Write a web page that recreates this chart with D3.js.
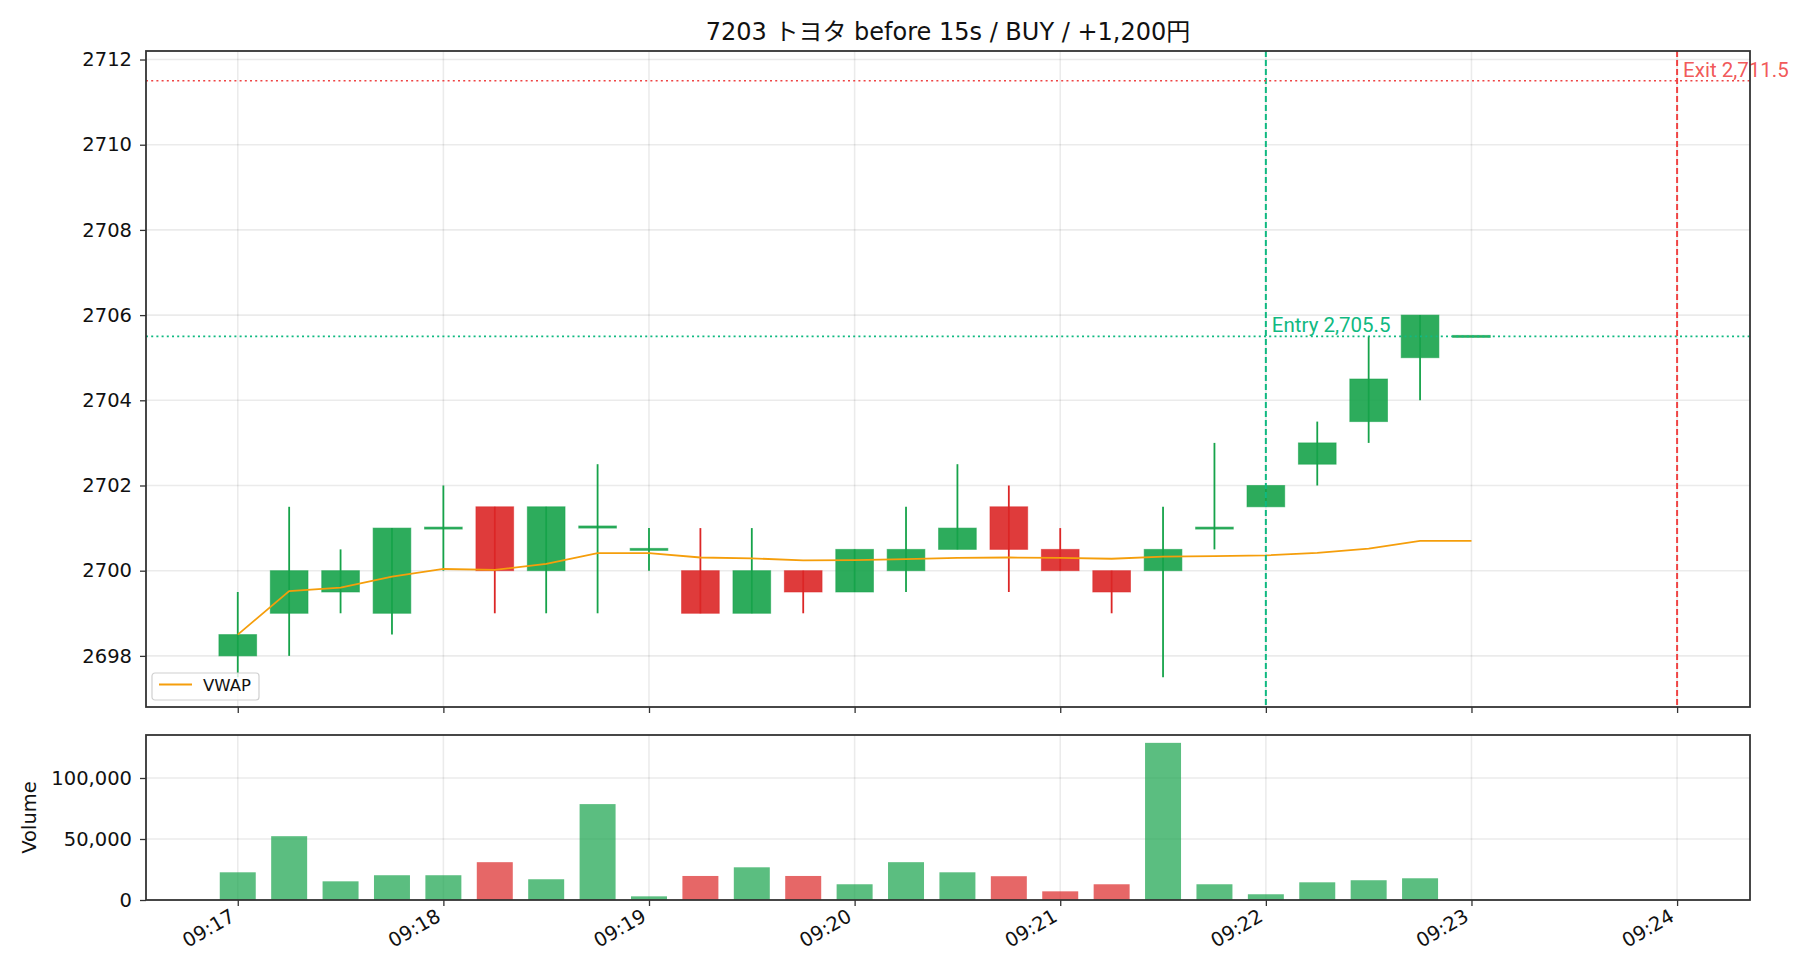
<!DOCTYPE html>
<html>
<head>
<meta charset="utf-8">
<script src="https://cdn.jsdelivr.net/npm/d3@7"></script>
<style>
    html, body { margin: 0; padding: 0; background: #fff; }
    svg text { font-family: "DejaVu Sans", "Noto Sans CJK JP", sans-serif; fill: #111; }
    .tick text { font-size: 19.5px; }
    .grid line { stroke: #000; stroke-opacity: 0.08; stroke-width: 1.6; }
</style>
</head>
<body>
<script>
"use strict";

// 15s bars
const times = [
    "09:17:00", "09:17:15", "09:17:30", "09:17:45",
    "09:18:00", "09:18:15", "09:18:30", "09:18:45",
    "09:19:00", "09:19:15", "09:19:30", "09:19:45",
    "09:20:00", "09:20:15", "09:20:30", "09:20:45",
    "09:21:00", "09:21:15", "09:21:30", "09:21:45",
    "09:22:00", "09:22:15", "09:22:30", "09:22:45",
    "09:23:00"
];
const opens  = [2698, 2699, 2699.5, 2699, 2701, 2701.5, 2700, 2701, 2700.5, 2700, 2699, 2700,
                2699.5, 2700, 2700.5, 2701.5, 2700.5, 2700, 2700, 2701, 2701.5, 2702.5, 2703.5, 2705, 2705.5];
const highs  = [2699.5, 2701.5, 2700.5, 2701, 2702, 2701.5, 2701.5, 2702.5, 2701, 2701, 2701, 2700,
                2700.5, 2701.5, 2702.5, 2702, 2701, 2700, 2701.5, 2703, 2702, 2703.5, 2705.5, 2706, 2705.5];
const lows   = [2697.5, 2698, 2699, 2698.5, 2700, 2699, 2699, 2699, 2700, 2699, 2699, 2699,
                2699.5, 2699.5, 2700.5, 2699.5, 2700, 2699, 2697.5, 2700.5, 2701.5, 2702, 2703, 2704, 2705.5];
const closes = [2698.5, 2700, 2700, 2701, 2701, 2700, 2701.5, 2701.05, 2700.5, 2699, 2700, 2699.5,
                2700.5, 2700.5, 2701, 2700.5, 2700, 2699.5, 2700.5, 2701, 2702, 2703, 2704.5, 2706, 2705.5];
const volumes = [22700, 52300, 15300, 20300, 20300, 31000, 17000, 78600, 3000, 19700, 26800, 19700,
                 12900, 31000, 22700, 19500, 7100, 12900, 128800, 12900, 4700, 14500, 16200, 17800, 200];
const vwap = [2698.5, 2699.52, 2699.6, 2699.86, 2700.04, 2700.02, 2700.16, 2700.41, 2700.41, 2700.31,
              2700.29, 2700.24, 2700.25, 2700.27, 2700.3, 2700.31, 2700.3, 2700.28, 2700.33, 2700.34,
              2700.36, 2700.42, 2700.52, 2700.7, 2700.7];

const entry = { time: "09:22:00", price: 2705.5 };
const exit  = { time: "09:24:00", price: 2711.5 };
const title = "7203 トヨタ before 15s / BUY / +1,200円";

const UP = "#16a34a", DOWN = "#dc2626";
const ENTRY_C = "#10b981", EXIT_C = "#ef4444", VWAP_C = "#f59e0b";

const W = 1820, H = 980;
const main = { left: 146, right: 1750, top: 51, bottom: 707 };
const vol  = { left: 146, right: 1750, top: 735, bottom: 900 };

const parse = d3.timeParse("%H:%M:%S");
const bars = times.map((t, i) => ({
    t: parse(t), o: opens[i], h: highs[i], l: lows[i], c: closes[i], v: volumes[i], vw: vwap[i]
}));
const entryT = parse(entry.time), exitT = parse(exit.time);

// matplotlib-ish 5% margins
const barW = 11 * 1000;
const x0 = +bars[0].t - barW / 2, x1 = +exitT;
const xPad = (x1 - x0) * 0.05;
const x = d3.scaleTime()
            .domain([new Date(x0 - xPad), new Date(x1 + xPad)])
            .range([main.left, main.right]);

const pLo = d3.min(lows), pHi = d3.max([...highs, exit.price]);
const pPad = (pHi - pLo) * 0.05;
const y = d3.scaleLinear()
            .domain([pLo - pPad, pHi + pPad])
            .range([main.bottom, main.top]);

const yv = d3.scaleLinear()
             .domain([0, d3.max(volumes) * 1.05])
             .range([vol.bottom, vol.top]);

const svg = d3.select("body").append("svg")
              .attr("width", W)
              .attr("height", H);

svg.append("text")
   .attr("x", (main.left + main.right) / 2)
   .attr("y", 40)
   .attr("text-anchor", "middle")
   .style("font-size", "24px")
   .text(title);

const defs = svg.append("defs");
defs.append("clipPath").attr("id", "clipMain")
    .append("rect")
    .attr("x", main.left).attr("y", main.top)
    .attr("width", main.right - main.left).attr("height", main.bottom - main.top);
defs.append("clipPath").attr("id", "clipVol")
    .append("rect")
    .attr("x", vol.left).attr("y", vol.top)
    .attr("width", vol.right - vol.left).attr("height", vol.bottom - vol.top);

const xTicks = x.ticks(d3.timeMinute.every(1));
const pTicks = y.ticks(8);
const vTicks = [0, 50000, 100000];

// grids
function grid(box, yScale, yT) {
    const g = svg.append("g").attr("class", "grid");
    g.selectAll(".gx").data(xTicks).enter().append("line")
     .attr("x1", d => x(d)).attr("x2", d => x(d))
     .attr("y1", box.top).attr("y2", box.bottom);
    g.selectAll(".gy").data(yT).enter().append("line")
     .attr("x1", box.left).attr("x2", box.right)
     .attr("y1", d => yScale(d)).attr("y2", d => yScale(d));
}
grid(main, y, pTicks);
grid(vol, yv, vTicks);

// ---- price panel
const pg = svg.append("g").attr("clip-path", "url(#clipMain)");

const bodyW = x(new Date(+bars[0].t + barW / 2)) - x(new Date(+bars[0].t - barW / 2));

pg.selectAll(".wick").data(bars).enter().append("line")
  .attr("class", "wick")
  .attr("x1", d => x(d.t)).attr("x2", d => x(d.t))
  .attr("y1", d => y(d.h)).attr("y2", d => y(d.l))
  .attr("stroke", d => d.c >= d.o ? UP : DOWN)
  .attr("stroke-width", 1.8);

pg.selectAll(".body").data(bars).enter().append("rect")
  .attr("class", "body")
  .attr("x", d => x(d.t) - bodyW / 2)
  .attr("width", bodyW)
  .attr("y", d => y(Math.max(d.o, d.c)) - (d.o === d.c ? 1 : 0))
  .attr("height", d => Math.max(Math.abs(y(d.o) - y(d.c)), 2))
  .attr("fill", d => d.c >= d.o ? UP : DOWN)
  .attr("fill-opacity", 0.9)
  .attr("stroke", d => d.c >= d.o ? UP : DOWN)
  .attr("stroke-opacity", 0.55)
  .attr("stroke-width", 1);

pg.append("path")
  .datum(bars)
  .attr("fill", "none")
  .attr("stroke", VWAP_C)
  .attr("stroke-width", 1.8)
  .attr("d", d3.line().x(d => x(d.t)).y(d => y(d.vw)));

// entry / exit markers
function marker(t, price, color) {
    pg.append("line")
      .attr("x1", main.left).attr("x2", main.right)
      .attr("y1", y(price)).attr("y2", y(price))
      .attr("stroke", color).attr("stroke-width", 1.6)
      .attr("stroke-dasharray", "2,3.2");
    pg.append("line")
      .attr("x1", x(t)).attr("x2", x(t))
      .attr("y1", main.top).attr("y2", main.bottom)
      .attr("stroke", color).attr("stroke-width", 2)
      .attr("stroke-dasharray", "6,3");
}
marker(entryT, entry.price, ENTRY_C);
marker(exitT, exit.price, EXIT_C);

const fmtP = d3.format(",.1f");
svg.append("text")
   .attr("x", x(entryT) + 6).attr("y", y(entry.price) - 4)
   .style("font-family", "Roboto").style("font-size", "20.5px")
   .style("fill", ENTRY_C)
   .text(`Entry ${fmtP(entry.price)}`);
svg.append("text")
   .attr("x", x(exitT) + 6).attr("y", y(exit.price) - 4)
   .style("font-family", "Roboto").style("font-size", "20.5px")
   .style("fill", EXIT_C).style("fill-opacity", 0.9)
   .text(`Exit ${fmtP(exit.price)}`);

// legend
const lg = svg.append("g").attr("transform", "translate(152,673)");
lg.append("rect")
  .attr("width", 107).attr("height", 27).attr("rx", 3)
  .attr("fill", "#fff").attr("fill-opacity", 0.8)
  .attr("stroke", "#d0d0d0").attr("stroke-width", 1.2);
lg.append("line")
  .attr("x1", 7).attr("x2", 40).attr("y1", 11.5).attr("y2", 11.5)
  .attr("stroke", VWAP_C).attr("stroke-width", 1.8);
lg.append("text")
  .attr("x", 51).attr("y", 17.5)
  .style("font-size", "16.5px")
  .text("VWAP");

// ---- volume panel
const vg = svg.append("g").attr("clip-path", "url(#clipVol)");
const volW = bodyW * 10.5 / 11;
vg.selectAll(".vbar").data(bars).enter().append("rect")
  .attr("x", d => x(d.t) - volW / 2)
  .attr("width", volW)
  .attr("y", d => yv(d.v))
  .attr("height", d => yv(0) - yv(d.v))
  .attr("fill", d => d.c >= d.o ? UP : DOWN)
  .attr("fill-opacity", 0.7);

// ---- axes
function styleAxis(g) {
    g.select(".domain").remove();
    g.selectAll(".tick line").attr("stroke", "#333").attr("stroke-width", 1.3);
}

svg.append("g")
   .attr("transform", `translate(${main.left},0)`)
   .call(d3.axisLeft(y).tickValues(pTicks).tickFormat(d3.format("d")).tickSize(6).tickPadding(8))
   .call(styleAxis);

svg.append("g")
   .attr("transform", `translate(0,${main.bottom})`)
   .call(d3.axisBottom(x).tickValues(xTicks).tickFormat("").tickSize(6))
   .call(styleAxis);

svg.append("g")
   .attr("transform", `translate(${vol.left},0)`)
   .call(d3.axisLeft(yv).tickValues(vTicks).tickFormat(d3.format(",")).tickSize(6).tickPadding(8))
   .call(styleAxis);

const xAx = svg.append("g")
               .attr("transform", `translate(0,${vol.bottom})`)
               .call(d3.axisBottom(x).tickValues(xTicks).tickFormat(d3.timeFormat("%H:%M")).tickSize(6))
               .call(styleAxis);
xAx.selectAll(".tick text")
   .attr("text-anchor", "end")
   .attr("dy", null)
   .attr("y", null)
   .attr("transform", "translate(-2,20) rotate(-30)");

svg.append("text")
   .attr("transform", `translate(36,${(vol.top + vol.bottom) / 2}) rotate(-90)`)
   .attr("text-anchor", "middle")
   .style("font-size", "19.5px")
   .text("Volume");

// spines
[main, vol].forEach(b => {
    svg.append("rect")
       .attr("x", b.left).attr("y", b.top)
       .attr("width", b.right - b.left).attr("height", b.bottom - b.top)
       .attr("fill", "none")
       .attr("stroke", "#333")
       .attr("stroke-width", 1.8);
});
</script>
</body>
</html>
